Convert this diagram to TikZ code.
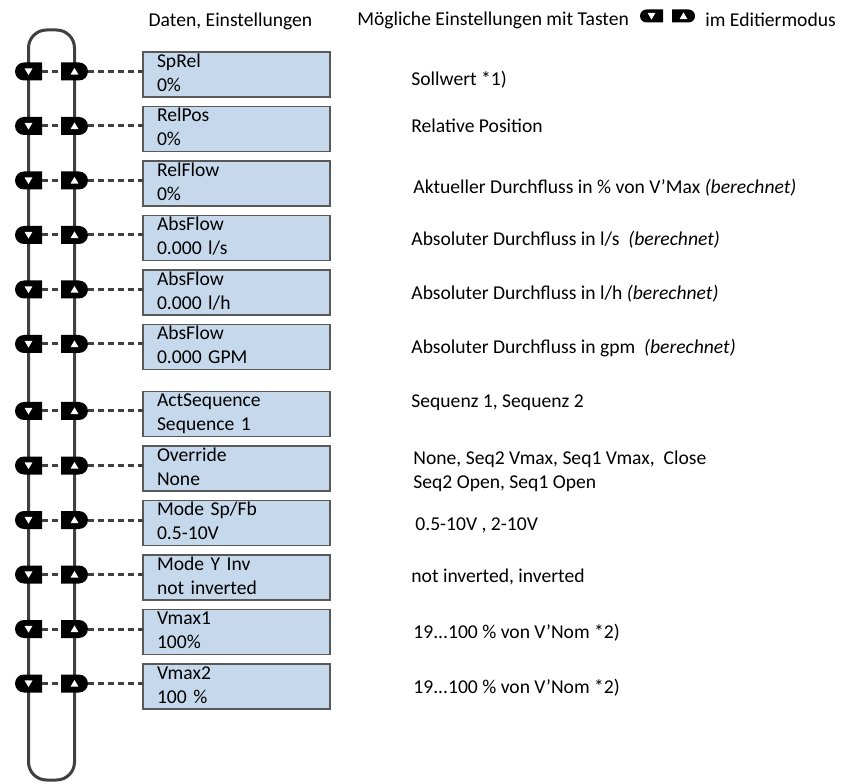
\documentclass[tikz,border=0pt]{standalone}
\usepackage{fontspec}
\setmainfont{Carlito}
\usepackage{xcolor}
\usetikzlibrary{positioning}
\usetikzlibrary{calc,shapes.misc}

\definecolor{boxblue}{HTML}{C6D9EC}
\definecolor{boxedge}{HTML}{595959}
\definecolor{darkline}{HTML}{404040}

\tikzset{
	menubox/.style={rectangle, draw=boxedge, line width=0.6pt, fill=boxblue,
		minimum width=93.5pt, minimum height=22.5pt, text width=79.5pt,
		inner xsep=7pt, inner ysep=0pt, outer sep=0pt, align=left,
		text height=7.65pt, text depth=14.85pt},
	dnkey/.style={rounded rectangle, rounded rectangle right arc=none, fill=black,
		minimum width=13.5pt, minimum height=9pt, inner sep=0pt,
		path picture={\fill[white] ($(path picture bounding box.center)+(-2pt,1.6pt)$)
			-- ++(4pt,0pt) -- ++(-2pt,-3.4pt) -- cycle;}},
	upkey/.style={rounded rectangle, rounded rectangle left arc=none, fill=black,
		minimum width=13.5pt, minimum height=9pt, inner sep=0pt,
		path picture={\fill[white] ($(path picture bounding box.center)+(-2pt,-1.6pt)$)
			-- ++(4pt,0pt) -- ++(-2pt,3.4pt) -- cycle;}},
	dashline/.style={draw=darkline, line width=1.5pt, dash pattern=on 3pt off 2pt},
	loopline/.style={draw=darkline, line width=1.5pt},
	hint/.style={anchor=west, inner sep=0pt, align=left}
}

\begin{document}
\begin{tikzpicture}[x=0.5pt, y=0.5pt, font=\fontsize{9.8}{12}\selectfont, node distance=4.75pt]
	\useasboundingbox (0,0) rectangle (857,783);

	% headings
	\node (colhead) at (230.5,762) {Daten, Einstellungen};
	\node[hint] (keyhead) at (357,763) {Mögliche Einstellungen mit Tasten};
	\node[dnkey, minimum width=11.5pt, minimum height=6.5pt] (hdn) at (651.5,767) {};
	\node[upkey, minimum width=11.5pt, minimum height=6.5pt] (hup) at (683.5,767) {};
	\node[hint] (modehead) at (705,763) {im Editiermodus};

	% key loop
	\draw[loopline, rounded corners=9pt] (28.5,3) rectangle (74.5,753);

	% menu entries
	\node[menubox, anchor=north west] (b1) at (143,731) {SpRel\\0\%};
	\node[menubox, below=of b1] (b2) {RelPos\\0\%};
	\node[menubox, below=of b2] (b3) {RelFlow\\0\%};
	\node[menubox, below=of b3] (b4) {AbsFlow\\0.000 l/s};
	\node[menubox, below=of b4] (b5) {AbsFlow\\0.000 l/h};
	\node[menubox, below=of b5] (b6) {AbsFlow\\0.000 GPM};
	\node[menubox, below=11pt of b6] (b7) {ActSequence\\Sequence 1};
	\node[menubox, below=of b7] (b8) {Override\\None};
	\node[menubox, below=of b8] (b9) {Mode Sp/Fb\\0.5-10V};
	\node[menubox, below=of b9] (b10) {Mode Y Inv\\not inverted};
	\node[menubox, below=of b10] (b11) {Vmax1\\100\%};
	\node[menubox, below=of b11] (b12) {Vmax2\\100 \%};

	% keys and dashed links
	\foreach \i in {1,...,12}{
		\node[dnkey] (dn\i) at ([shift={(-114.5,3)}]b\i.west) {};
		\node[upkey] (up\i) at ([shift={(-68.5,3)}]b\i.west) {};
		\draw[dashline] (dn\i) -- (up\i);
		\draw[dashline] (up\i.east) -- (up\i.east -| b\i.west);
	}

	% settings
	\node[hint] (txt1) at (411,703) {Sollwert *1)};
	\node[hint] (txt2) at (411,657) {Relative Position};
	\node[hint] (txt3) at (413,595) {Aktueller Durchfluss in \% von V’Max \textit{(berechnet)}};
	\node[hint] (txt4) at (411,543) {Absoluter Durchfluss in l/s\ \ \textit{(berechnet)}};
	\node[hint] (txt5) at (411,489) {Absoluter Durchfluss in l/h\ \textit{(berechnet)}};
	\node[hint] (txt6) at (411,435) {Absoluter Durchfluss in gpm\ \ \textit{(berechnet)}};
	\node[hint] (txt7) at (411,380) {Sequenz 1, Sequenz 2};
	\node[hint] (txt8) at (413,312) {None, Seq2 Vmax, Seq1 Vmax,\ \ Close\\Seq2 Open, Seq1 Open};
	\node[hint] (txt9) at (415,258) {0.5-10V , 2-10V};
	\node[hint] (txt10) at (411,206) {not inverted, inverted};
	\node[hint] (txt11) at (413,150) {19...100 \% von V’Nom *2)};
	\node[hint] (txt12) at (413,95) {19...100 \% von V’Nom *2)};
\end{tikzpicture}
\end{document}
